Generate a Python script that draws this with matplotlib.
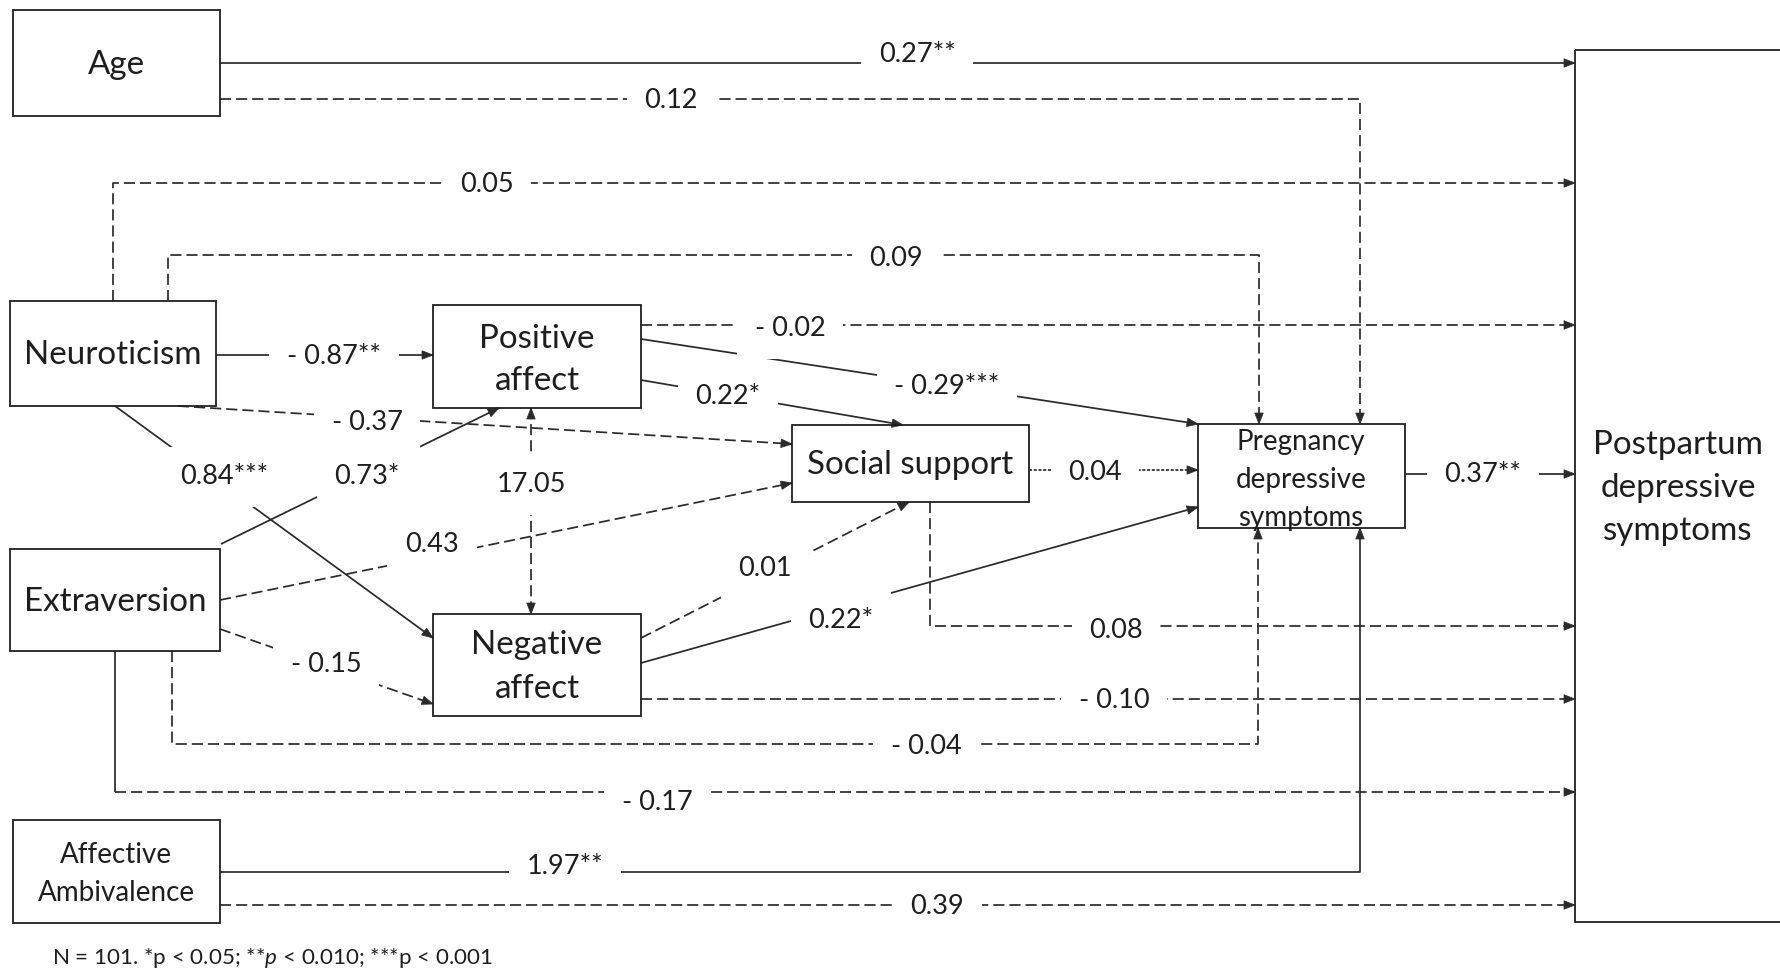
import matplotlib
matplotlib.use("Agg")
import matplotlib.pyplot as plt
from matplotlib.patches import Rectangle, Polygon
import numpy as np

plt.rcParams['font.family'] = ['Lato', 'DejaVu Sans']
plt.rcParams['lines.scale_dashes'] = False
plt.rcParams['mathtext.fontset'] = 'custom'
plt.rcParams['mathtext.rm'] = 'Lato'
plt.rcParams['mathtext.it'] = 'Lato:italic'

# ------------------------------------------------------------------ data
node_names = ["Age", "Neuroticism", "Positive\naffect", "Extraversion",
              "Negative\naffect", "Affective\nAmbivalence", "Social support",
              "Pregnancy\ndepressive\nsymptoms", "Postpartum\ndepressive\nsymptoms"]

edge_source = ["Age", "Age", "Neuroticism", "Neuroticism", "Positive\naffect",
               "Neuroticism", "Positive\naffect", "Positive\naffect", "Neuroticism",
               "Neuroticism", "Extraversion", "Positive\naffect", "Extraversion",
               "Extraversion", "Negative\naffect", "Negative\naffect", "Social support",
               "Social support", "Negative\naffect", "Extraversion", "Extraversion",
               "Affective\nAmbivalence", "Affective\nAmbivalence",
               "Pregnancy\ndepressive\nsymptoms"]
edge_target = ["Post", "Preg", "Post", "Preg", "Post", "Positive\naffect", "Preg",
               "Social support", "Social support", "Negative\naffect", "Positive\naffect",
               "Negative\naffect", "Social support", "Negative\naffect", "Social support",
               "Preg", "Preg", "Post", "Post", "Preg", "Post", "Preg", "Post", "Post"]
coefficients = ["0.27**", "0.12", "0.05", "0.09", "- 0.02", "- 0.87**", "- 0.29***",
                "0.22*", "- 0.37", "0.84***", "0.73*", "17.05", "0.43", "- 0.15", "0.01",
                "0.22*", "0.04", "0.08", "- 0.10", "- 0.04", "- 0.17", "1.97**", "0.39",
                "0.37**"]
line_kind = ["solid", "dashed", "dashed", "dashed", "dashed", "solid", "solid",
             "solid", "dashed", "solid", "solid", "dashed", "dashed", "dashed", "dashed",
             "solid", "dotted", "dashed", "dashed", "dashed", "mixed", "solid", "dashed",
             "solid"]
double_headed = [False] * 11 + [True] + [False] * 12

footnote = "N = 101. *p < 0.05; **$p$ < 0.010; ***p < 0.001"

# ------------------------------------------------------------------ layout (pixel space)
W, H = 1780, 971
boxes = {
    "Age": (12.5, 10, 220, 116),
    "Neuroticism": (10, 301, 216, 406),
    "Positive\naffect": (433, 305, 641, 408),
    "Extraversion": (10, 549, 220, 651),
    "Negative\naffect": (433, 614, 641, 716),
    "Affective\nAmbivalence": (12.5, 820, 220, 923),
    "Social support": (792, 425, 1029, 502),
    "Pregnancy\ndepressive\nsymptoms": (1198, 424, 1405, 528),
    "Postpartum\ndepressive\nsymptoms": (1575, 50, 1810, 922),
}
text_centers = {
    "Age": (116, 65, 0),
    "Neuroticism": (113, 355, 0),
    "Positive\naffect": (537, 360, 43),
    "Extraversion": (115, 602, 0),
    "Negative\naffect": (537, 667, 43),
    "Affective\nAmbivalence": (116, 874, 38),
    "Social support": (910, 465, 0),
    "Pregnancy\ndepressive\nsymptoms": (1301, 480, 38),
    "Postpartum\ndepressive\nsymptoms": (1678, 488, 43),
}
small_font_nodes = {"Affective\nAmbivalence", "Pregnancy\ndepressive\nsymptoms"}

routes = [
    [(220, 63), (1575, 63)],
    [(220, 99), (1360, 99), (1360, 424)],
    [(113, 301), (113, 183), (1575, 183)],
    [(168, 301), (168, 255), (1259, 255), (1259, 424)],
    [(641, 325), (1575, 325)],
    [(216, 355), (433, 355)],
    [(641, 339), (1198, 424)],
    [(641, 380), (903, 425)],
    [(178, 406), (792, 444)],
    [(115, 406), (433, 638)],
    [(221, 544), (499, 408)],
    [(531, 408), (531, 614)],
    [(220, 600), (792, 483)],
    [(220, 629), (433, 704)],
    [(641, 638), (909, 502)],
    [(641, 663), (1198, 507)],
    [(1029, 470), (1198, 470)],
    [(930, 502), (930, 626), (1575, 626)],
    [(641, 699), (1575, 699)],
    [(172, 651), (172, 744), (1258, 744), (1258, 528)],
    [(115, 651), (115, 792), (1575, 792)],
    [(220, 872), (1360, 872), (1360, 528)],
    [(220, 905), (1575, 905)],
    [(1405, 474), (1575, 474)],
]
label_pos = [
    (917, 54), (671, 101), (487, 185), (896, 259), (790, 329), (334, 356),
    (947, 387), (728, 397), (367, 422), (224, 477), (367, 477), (531, 485),
    (432, 544), (326, 664), (765, 568), (841, 620), (1095, 472), (1116, 631),
    (1114, 700), (926, 746), (657, 802), (565, 866), (937, 907), (1483, 475),
]

INK = "#1e1e1e"
LINE = "#2a2a2a"
LW = 1.25
DASH = (0, (8, 3.6))
DOT = (0, (2.2, 1.2))

# ------------------------------------------------------------------ figure
fig = plt.figure(figsize=(W / 100, H / 100), dpi=100)
ax = fig.add_axes([0, 0, 1, 1])
ax.set_xlim(0, W)
ax.set_ylim(H, 0)
ax.axis("off")
renderer = fig.canvas.get_renderer()


def fit_size(sample, target_px, **kw):
    t = ax.text(0, 0, sample, fontsize=20, **kw)
    w = t.get_window_extent(renderer).width
    t.remove()
    return 20 * target_px / w


fs_box = fit_size("Social support", 206)
fs_small = fit_size("depressive", 131)
fs_path = fit_size("- 0.29***", 105)
fs_note = fit_size(footnote, 441)


def arrowhead(p_from, p_to, L=11, Wd=8.5):
    p0 = np.array(p_from, float)
    p1 = np.array(p_to, float)
    d = p1 - p0
    d /= np.hypot(*d)
    n = np.array([-d[1], d[0]])
    base = p1 - d * L
    tri = [p1, base + n * Wd / 2, base - n * Wd / 2]
    ax.add_patch(Polygon(tri, closed=True, facecolor=LINE, edgecolor=LINE,
                         lw=0.5, zorder=3))


# edges
for route, kind, dbl, lab, lp in zip(routes, line_kind, double_headed,
                                     coefficients, label_pos):
    pts = np.array(route, float)
    if kind == "mixed":
        ax.plot(pts[:2, 0], pts[:2, 1], color=LINE, lw=LW, zorder=2,
                solid_capstyle="butt")
        ax.plot(pts[1:, 0], pts[1:, 1], color=LINE, lw=LW, ls=DASH, zorder=2)
    else:
        ls = {"solid": "-", "dashed": DASH, "dotted": DOT}[kind]
        ax.plot(pts[:, 0], pts[:, 1], color=LINE, lw=LW, ls=ls, zorder=2,
                solid_capstyle="butt", dash_capstyle="butt")
    arrowhead(pts[-2], pts[-1])
    if dbl:
        arrowhead(pts[1], pts[0])
    ax.text(lp[0], lp[1], lab, fontsize=fs_path, color=INK, ha="center",
            va="center", zorder=4,
            bbox=dict(boxstyle="square,pad=0.65", facecolor="white",
                      edgecolor="none"))

# nodes
for name in node_names:
    x0, y0, x1, y1 = boxes[name]
    ax.add_patch(Rectangle((x0, y0), x1 - x0, y1 - y0, facecolor="none",
                           edgecolor="#202020", lw=1.3, zorder=5))
    cx, cy, sp = text_centers[name]
    lines = name.split("\n")
    fs = fs_small if name in small_font_nodes else fs_box
    n = len(lines)
    for i, line in enumerate(lines):
        ax.text(cx, cy + (i - (n - 1) / 2) * sp, line, fontsize=fs, color=INK,
                ha="center", va="center", zorder=6)

ax.text(52, 958, footnote, fontsize=fs_note, color=INK, ha="left",
        va="center", zorder=6)

fig.savefig("out.png", dpi=100, facecolor="white")
